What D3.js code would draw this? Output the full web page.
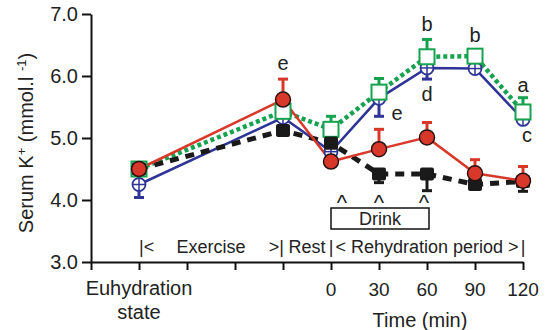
<!DOCTYPE html>
<html><head><meta charset="utf-8">
<script src="https://cdn.jsdelivr.net/npm/d3@7"></script>
<style>body{margin:0;background:#fff}svg{display:block;font-family:"Liberation Sans",Arial,sans-serif}</style>
</head><body><svg id="c" width="547" height="330"></svg>
<script>
// x slots: 0..9 ; data points at slots 1,4,5,6,7,8,9
const slots = [1, 4, 5, 6, 7, 8, 9];
const tickSlots = [0,1,2,3,4,5,6,7,8,9];
const timeLabels = [{s:5,t:"0"},{s:6,t:"30"},{s:7,t:"60"},{s:8,t:"90"},{s:9,t:"120"}];
const yTicks = [3,4,5,6,7];

const red   = [4.50, 5.62, 4.62, 4.82, 5.01, 4.43, 4.31];
const redErr = [0, 0.33, 0, 0.32, 0.24, 0.22, 0.23];
const blue  = [4.25, 5.33, 4.78, 5.64, 6.13, 6.12, 5.30];
const blueErr = [0.21, 0.04, 0.05, 0.29, 0.18, 0.03, 0.04];
const green = [4.50, 5.43, 5.14, 5.74, 6.31, 6.32, 5.42];
const greenErr = [0, 0.04, 0.21, 0.22, 0.28, 0.03, 0.23];
const black = [4.50, 5.12, 4.92, 4.42, 4.42, 4.25, 4.30];
const blackErr = [0, 0.04, 0.08, 0.14, 0.27, 0.04, 0.16];

const svg = d3.select("#c");
const x = d3.scaleLinear().domain([0, 9]).range([91, 523]);
const y = d3.scaleLinear().domain([3, 7]).range([262, 14]);

// axes
const yAxis = d3.axisLeft(y).tickValues(yTicks).tickFormat(d3.format(".1f")).tickSize(9).tickSizeOuter(0).tickPadding(4);
const gy = svg.append("g").attr("transform","translate(91,0)").call(yAxis);
gy.selectAll("text").style("font-size","20px").attr("fill","#222");
const xAxis = d3.axisBottom(x).tickValues(tickSlots).tickFormat("").tickSize(8).tickSizeOuter(0);
const gx = svg.append("g").attr("transform","translate(0,262)").call(xAxis);
[gx, gy].forEach(g => { g.select(".domain").attr("stroke","#111").attr("stroke-width",2);
  g.selectAll(".tick line").attr("stroke","#111").attr("stroke-width",2); });

// x labels
svg.selectAll(".tl").data(timeLabels).enter().append("text")
  .attr("x", d => x(d.s)).attr("y", 296).attr("text-anchor","middle")
  .style("font-size","19px").attr("fill","#222").text(d => d.t);
svg.append("text").attr("x", x(1)).attr("y", 295).attr("text-anchor","middle").style("font-size","20px").attr("fill","#222").text("Euhydration");
svg.append("text").attr("x", x(1)).attr("y", 319).attr("text-anchor","middle").style("font-size","20px").attr("fill","#222").text("state");
svg.append("text").attr("x", 420).attr("y", 327).attr("text-anchor","middle").style("font-size","20px").attr("fill","#222").text("Time (min)");

// y label
const yl = svg.append("text").attr("transform","translate(33,143) rotate(-90)").attr("text-anchor","middle")
  .style("font-size","20px").attr("fill","#222");
yl.append("tspan").text("Serum K");
yl.append("tspan").attr("dy",-7).style("font-size","13px").text("+");
yl.append("tspan").attr("dy",7).text(" (mmol.l ");
yl.append("tspan").attr("dy",-7).style("font-size","13px").text("-1");
yl.append("tspan").attr("dy",7).text(")");

// phase labels
const ph = [
  {x: x(1), t:"|<", a:"start"},
  {x: 211, t:"Exercise", a:"middle"},
  {x: x(4)+1, t:">|", a:"end"},
  {x: 307, t:"Rest", a:"middle"},
  {x: x(5), t:"|", a:"middle"},
  {x: 427, t:"< Rehydration period >", a:"middle"},
  {x: x(9), t:"|", a:"middle"}
];
svg.selectAll(".ph").data(ph).enter().append("text").attr("x", d=>d.x).attr("y", 253)
  .attr("text-anchor", d=>d.a).style("font-size","18px").attr("fill","#222").text(d=>d.t);

// Drink box and carets
svg.append("rect").attr("x", x(5)).attr("y", 208).attr("width", x(7)+2 - x(5)).attr("height", 21)
  .attr("fill","#fff").attr("stroke","#111").attr("stroke-width",1.5);
svg.append("text").attr("x", 380).attr("y", 225).attr("text-anchor","middle").style("font-size","18px").attr("fill","#222").text("Drink");
[342, x(6), 424].forEach(cx => svg.append("text").attr("x", cx).attr("y", 210).attr("text-anchor","middle")
  .style("font-size","22px").attr("fill","#222").text("^"));

const line = d3.line().x((d,i)=>x(slots[i])).y(d=>y(d));

function errbars(vals, errs, dir, color) {
  const g = svg.append("g");
  vals.forEach((v,i) => {
    if (!errs[i]) return;
    const ye = y(v + dir*errs[i]);
    g.append("line").attr("x1",x(slots[i])).attr("x2",x(slots[i])).attr("y1",y(v)).attr("y2",ye)
      .attr("stroke",color).attr("stroke-width",3);
    g.append("line").attr("x1",x(slots[i])-5).attr("x2",x(slots[i])+5).attr("y1",ye).attr("y2",ye)
      .attr("stroke",color).attr("stroke-width",3);
  });
}

const cBlue="#2e3596", cGreen="#16a24e", cBlack="#1a1a1a", cRed="#d8382a";

// lines
svg.append("path").attr("d", line(blue)).attr("fill","none").attr("stroke",cBlue).attr("stroke-width",2.5);
svg.append("path").attr("d", line(green)).attr("fill","none").attr("stroke",cGreen).attr("stroke-width",4.5).attr("stroke-dasharray","4,3");
svg.append("path").attr("d", line(black)).attr("fill","none").attr("stroke",cBlack).attr("stroke-width",5).attr("stroke-dasharray","9,7");
svg.append("path").attr("d", line(red)).attr("fill","none").attr("stroke",cRed).attr("stroke-width",2.5);

// blue markers
errbars(blue, blueErr, -1, cBlue);
blue.forEach((v,i)=>{
  const cx=x(slots[i]), cy=y(v);
  svg.append("circle").attr("cx",cx).attr("cy",cy).attr("r",6.5).attr("fill","#fff").attr("stroke",cBlue).attr("stroke-width",1.8);
  svg.append("line").attr("x1",cx-6.5).attr("x2",cx+6.5).attr("y1",cy).attr("y2",cy).attr("stroke",cBlue).attr("stroke-width",1.5);
  svg.append("line").attr("x1",cx).attr("x2",cx).attr("y1",cy-6.5).attr("y2",cy+6.5).attr("stroke",cBlue).attr("stroke-width",1.5);
});
// green markers
errbars(green, greenErr, 1, cGreen);
svg.selectAll(".gm").data(green).enter().append("rect")
  .attr("x",(d,i)=>x(slots[i])-7.5).attr("y",d=>y(d)-7.5).attr("width",15).attr("height",15)
  .attr("fill","#fff").attr("stroke",cGreen).attr("stroke-width",2);
// black markers
errbars(black, blackErr, -1, cBlack);
svg.selectAll(".bm").data(black).enter().append("rect")
  .attr("x",(d,i)=>x(slots[i])-7).attr("y",d=>y(d)-6.5).attr("width",14).attr("height",13).attr("rx",2)
  .attr("fill",cBlack);
// red markers
errbars(red, redErr, 1, cRed);
svg.selectAll(".rm").data(red).enter().append("circle")
  .attr("cx",(d,i)=>x(slots[i])).attr("cy",d=>y(d)).attr("r",7.5)
  .attr("fill",cRed).attr("stroke","#2a1212").attr("stroke-width",1.5);

// significance letters
const letters = [
  {s:4, v:5.62, t:"e", dx:0, dy:-30},
  {s:7, v:6.31, t:"b", dx:0, dy:-26},
  {s:8, v:6.32, t:"b", dx:0, dy:-14},
  {s:9, v:5.42, t:"a", dx:0, dy:-20},
  {s:9, v:5.30, t:"c", dx:4, dy:23},
  {s:7, v:6.13, t:"d", dx:0, dy:33},
  {s:6, v:5.64, t:"e", dx:18, dy:22}
];
svg.selectAll(".lt").data(letters).enter().append("text")
  .attr("x", d=>x(d.s)+d.dx).attr("y", d=>y(d.v)+d.dy).attr("text-anchor","middle")
  .style("font-size","20px").attr("fill","#222").text(d=>d.t);
</script></body></html>
